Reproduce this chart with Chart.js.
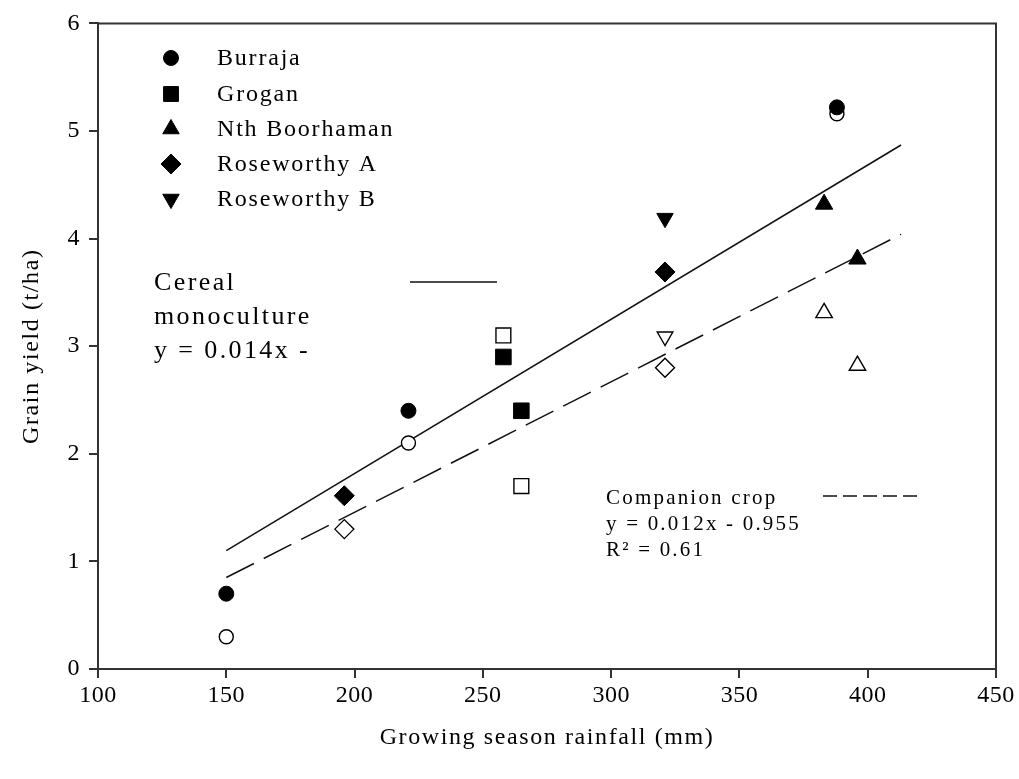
<!DOCTYPE html>
<html>
<head>
<meta charset="utf-8">
<script src="https://cdn.jsdelivr.net/npm/chart.js@4.4.1/dist/chart.umd.min.js"></script>
<style>
html,body{margin:0;padding:0;background:#fff;}
#wrap{width:1019px;height:779px;position:relative;}
</style>
</head>
<body>
<div id="wrap"><canvas id="c" width="1019" height="779"></canvas></div>
<script>
// ---- data ----
const siteNames = ['Burraja', 'Grogan', 'Nth Boorhaman', 'Roseworthy A', 'Roseworthy B'];
const siteStyles = ['circle', 'rect', 'triangle', 'rectRot', 'triangle'];
const siteRotations = [0, 0, 0, 0, 180];
const siteRadius = [7.5, 11, 10, 10, 9.5];

const burrajaRain = [150, 221, 388];
const burrajaCereal = [0.7, 2.4, 5.22];
const burrajaCompanion = [0.3, 2.1, 5.16];

const groganRain = [258, 265];
const groganCereal = [2.9, 2.4];
const groganCompanion = [3.1, 1.7];

const boorhamanRain = [383, 396];
const boorhamanCereal = [4.32, 3.81];
const boorhamanCompanion = [3.31, 2.82];

const roseARain = [196, 321];
const roseACereal = [1.61, 3.69];
const roseACompanion = [1.3, 2.8];

const roseBRain = [321];
const roseBCereal = [4.19];
const roseBCompanion = [3.09];

const fitRain = [150, 413];
const cerealFit = [1.10, 4.87];
const companionFit = [0.85, 4.04];

const xTicks = [100, 150, 200, 250, 300, 350, 400, 450];
const yTicks = [0, 1, 2, 3, 4, 5, 6];

const cerealLabel = ['Cereal', 'monoculture', 'y = 0.014x -'];
const companionLabel = ['Companion crop', 'y = 0.012x - 0.955', 'R² = 0.61'];

// ---- build ----
const FONT = "'Liberation Serif', 'Times New Roman', serif";
const pts = (xs, ys) => xs.map((x, i) => ({x: x, y: ys[i]}));
const siteRain = [burrajaRain, groganRain, boorhamanRain, roseARain, roseBRain];
const siteCereal = [burrajaCereal, groganCereal, boorhamanCereal, roseACereal, roseBCereal];
const siteCompanion = [burrajaCompanion, groganCompanion, boorhamanCompanion, roseACompanion, roseBCompanion];

const datasets = [];
siteNames.forEach((name, i) => {
  datasets.push({
    label: name + ' (cereal)',
    data: pts(siteRain[i], siteCereal[i]),
    pointStyle: siteStyles[i], rotation: siteRotations[i], pointRadius: siteRadius[i],
    backgroundColor: '#000', borderColor: '#000', borderWidth: 1
  });
  datasets.push({
    label: name + ' (companion)',
    data: pts(siteRain[i], siteCompanion[i]),
    pointStyle: siteStyles[i], rotation: siteRotations[i], pointRadius: siteRadius[i] - 0.5,
    backgroundColor: '#fff', borderColor: '#000', borderWidth: 1.4
  });
});
datasets.push({
  label: 'Cereal monoculture fit', data: pts(fitRain, cerealFit), showLine: true,
  pointRadius: 0, borderColor: '#111', borderWidth: 1.5, fill: false
});
datasets.push({
  label: 'Companion crop fit', data: pts(fitRain, companionFit), showLine: true,
  pointRadius: 0, borderColor: '#111', borderWidth: 1.5, borderDash: [31, 11], fill: false
});

const H = Chart.helpers || {};
function drawMarker(ctx, style, rot, r, x, y, fill) {
  if (H.drawPoint) {
    ctx.save();
    ctx.fillStyle = fill; ctx.strokeStyle = '#000'; ctx.lineWidth = 1;
    H.drawPoint(ctx, {pointStyle: style, rotation: rot, radius: r, borderWidth: 1}, x, y);
    ctx.restore();
  }
}
function spaced(titleSpacing, labelSpacing) {
  return s => {
    if (s._spaced) return;
    const wrap = (name, sp) => {
      const orig = s[name];
      s[name] = function () {
        const ctx = this.ctx;
        ctx.save();
        ctx.letterSpacing = sp;
        orig.apply(this, arguments);
        ctx.restore();
      };
    };
    wrap('drawTitle', titleSpacing);
    wrap('drawLabels', labelSpacing);
    s._spaced = true;
  };
}

const decor = {
  id: 'decor',
  afterDraw(chart) {
    const ctx = chart.ctx, a = chart.chartArea;
    ctx.save();
    // frame top/right
    ctx.strokeStyle = '#333'; ctx.lineWidth = 2;
    ctx.beginPath();
    ctx.moveTo(a.left, a.top); ctx.lineTo(a.right, a.top); ctx.lineTo(a.right, a.bottom);
    ctx.stroke();
    // legend
    ctx.fillStyle = '#000'; ctx.textBaseline = 'middle'; ctx.textAlign = 'left';
    const rowY = [58, 94, 129, 164, 199];
    const legR = [7.5, 10.5, 9.5, 10, 9.5];
    siteNames.forEach((n, i) => {
      drawMarker(ctx, siteStyles[i], siteRotations[i], legR[i], 171, rowY[i], '#000');
    });
    ctx.font = '24px ' + FONT; ctx.letterSpacing = '1.8px'; ctx.fillStyle = '#000';
    siteNames.forEach((n, i) => ctx.fillText(n, 217, rowY[i] + 1));
    // cereal annotation
    ctx.font = '26px ' + FONT; ctx.letterSpacing = '2.4px';
    cerealLabel.forEach((t, i) => ctx.fillText(t, 154, 283 + i * 34));
    ctx.letterSpacing = '0px';
    ctx.strokeStyle = '#111'; ctx.lineWidth = 1.5;
    ctx.beginPath(); ctx.moveTo(410, 282); ctx.lineTo(497, 282); ctx.stroke();
    // companion annotation
    ctx.font = '21px ' + FONT; ctx.letterSpacing = '2.2px';
    companionLabel.forEach((t, i) => ctx.fillText(t, 606, 498 + i * 26));
    ctx.letterSpacing = '0px';
    ctx.setLineDash([14, 6]);
    ctx.beginPath(); ctx.moveTo(823, 496); ctx.lineTo(920, 496); ctx.stroke();
    ctx.restore();
  }
};

new Chart(document.getElementById('c'), {
  type: 'scatter',
  data: {datasets: datasets},
  options: {
    responsive: false, animation: false,
    layout: {padding: {top: 21, right: 23, left: 0, bottom: 0}},
    plugins: {legend: {display: false}, tooltip: {enabled: false}},
    scales: {
      x: {
        type: 'linear', min: 100, max: 450,
        afterFit: s => { s.height = 110; },
        afterUpdate: spaced('1.6px', '0.5px'),
        afterBuildTicks: s => { s.ticks = xTicks.map(v => ({value: v})); },
        border: {display: true, color: '#333', width: 2},
        grid: {drawOnChartArea: false, drawTicks: true, tickLength: 9, color: '#333', lineWidth: 2},
        ticks: {color: '#000', padding: 3, font: {family: FONT, size: 24}, maxRotation: 0},
        title: {display: true, text: 'Growing season rainfall (mm)', color: '#000',
                font: {family: FONT, size: 24}, padding: {top: 0, bottom: 27}}
      },
      y: {
        type: 'linear', min: 0, max: 6,
        afterFit: s => { s.width = 98; },
        afterUpdate: spaced('1.6px', '0.5px'),
        afterBuildTicks: s => { s.ticks = yTicks.map(v => ({value: v})); },
        border: {display: true, color: '#333', width: 2},
        grid: {drawOnChartArea: false, drawTicks: true, tickLength: 9, color: '#333', lineWidth: 2},
        ticks: {color: '#000', padding: 9, font: {family: FONT, size: 24}},
        title: {display: true, text: 'Grain yield (t/ha)', color: '#000',
                font: {family: FONT, size: 24}, padding: {top: 17, bottom: 0}}
      }
    }
  },
  plugins: [decor]
});
</script>
</body>
</html>
